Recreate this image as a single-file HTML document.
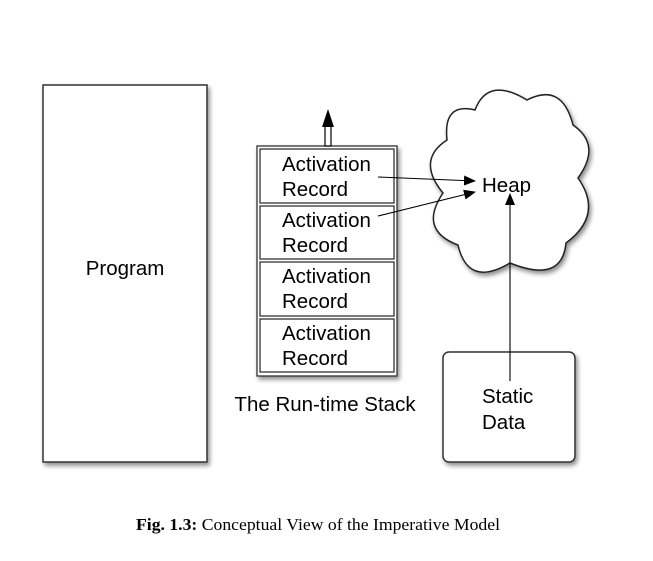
<!DOCTYPE html>
<html><head><meta charset="utf-8"><style>
html,body{margin:0;padding:0;background:#fff;}
svg{display:block;}
text{font-family:"Liberation Sans",Arial,sans-serif;font-size:20.5px;fill:#000;}
</style></head><body>
<svg width="653" height="561" viewBox="0 0 653 561" xmlns="http://www.w3.org/2000/svg">
<defs>
<filter id="sh" x="-10%" y="-10%" width="130%" height="130%">
<feGaussianBlur in="SourceAlpha" stdDeviation="2.5"/>
<feOffset dx="2" dy="3" result="b"/>
<feComponentTransfer><feFuncA type="linear" slope="0.45"/></feComponentTransfer>
<feMerge><feMergeNode/><feMergeNode in="SourceGraphic"/></feMerge>
</filter>
<marker id="ah" markerWidth="12" markerHeight="10" refX="11" refY="5" orient="auto" markerUnits="userSpaceOnUse">
<path d="M0,0 L12,5 L0,10 Z" fill="#000"/>
</marker>
</defs>
<rect x="43" y="85" width="164" height="377" fill="#fff" stroke="#333" stroke-width="1.5" filter="url(#sh)"/>
<text x="125" y="275" text-anchor="middle">Program</text>

<rect x="257" y="146" width="140" height="230" fill="#fff" stroke="#333" stroke-width="1.3" filter="url(#sh)"/>
<g fill="none" stroke="#333" stroke-width="1.3">
<rect x="260" y="149" width="134" height="54"/>
<rect x="260" y="206" width="134" height="53"/>
<rect x="260" y="262" width="134" height="54"/>
<rect x="260" y="319" width="134" height="53"/>
</g>
<text x="282" y="171">Activation</text><text x="282" y="196">Record</text>
<text x="282" y="227">Activation</text><text x="282" y="252">Record</text>
<text x="282" y="283">Activation</text><text x="282" y="308">Record</text>
<text x="282" y="340">Activation</text><text x="282" y="365">Record</text>
<text x="325" y="411" text-anchor="middle">The Run-time Stack</text>

<rect x="325" y="125" width="6" height="21" fill="#fff" stroke="#000" stroke-width="1.2"/>
<path d="M328,109 L334,127 L322,127 Z" fill="#000"/>

<path d="M475,110 Q488,76 527,100 Q562,82 573,125 Q602,145 578,178 Q604,215 566,243 Q562,284 510,263 Q468,288 458,245 Q418,230 443,193 Q416,160 447,140 Q443,102 475,110 Z" fill="#fff" stroke="#222" stroke-width="1.5" filter="url(#sh)"/>
<text x="482" y="192">Heap</text>

<rect x="443" y="352" width="132" height="110" rx="6" ry="6" fill="#fff" stroke="#333" stroke-width="1.5" filter="url(#sh)"/>
<text x="482" y="403">Static</text>
<text x="482" y="429">Data</text>

<line x1="378" y1="177" x2="475" y2="181" stroke="#000" stroke-width="1.1" marker-end="url(#ah)"/>
<line x1="378" y1="216" x2="475" y2="192" stroke="#000" stroke-width="1.1" marker-end="url(#ah)"/>
<line x1="510" y1="381" x2="510" y2="194" stroke="#000" stroke-width="1.1" marker-end="url(#ah)"/>

<text x="136" y="530" textLength="364" lengthAdjust="spacingAndGlyphs" style="font-family:'Liberation Serif','Times New Roman',serif;font-size:17px;"><tspan font-weight="bold">Fig. 1.3:</tspan> Conceptual View of the Imperative Model</text>
</svg>
</body></html>
